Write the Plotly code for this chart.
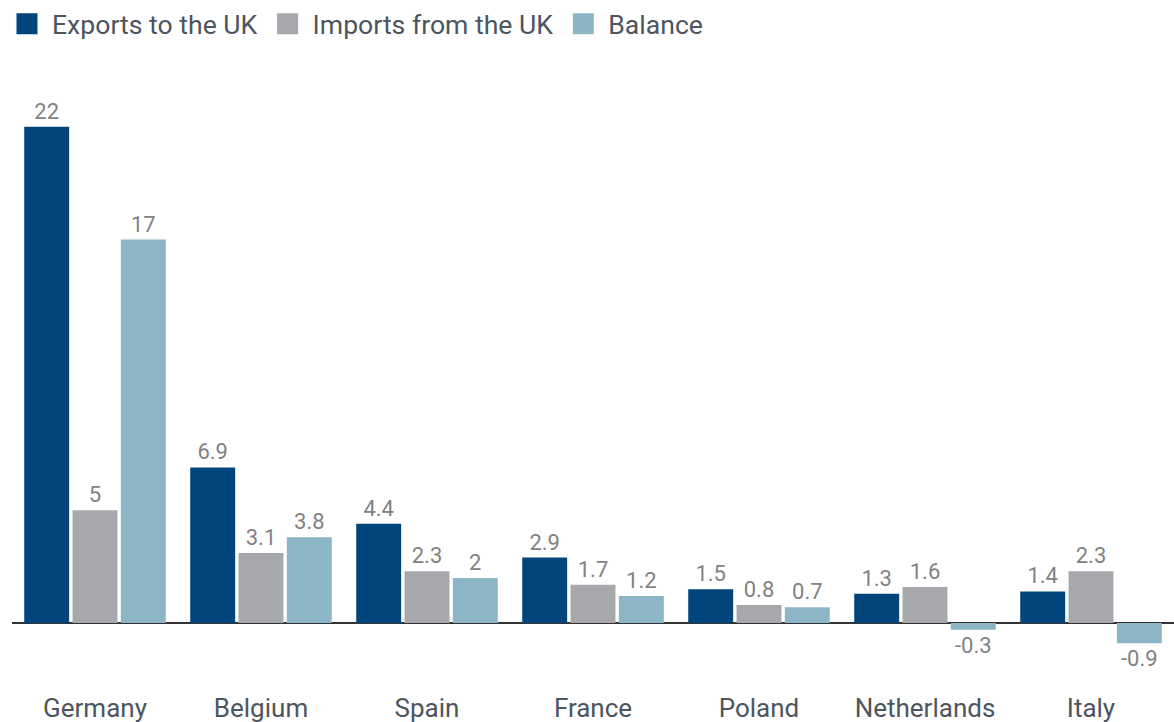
import plotly.graph_objects as go

categories = ["Germany", "Belgium", "Spain", "France", "Poland", "Netherlands", "Italy"]
exports = [22, 6.9, 4.4, 2.9, 1.5, 1.3, 1.4]
imports = [5, 3.1, 2.3, 1.7, 0.8, 1.6, 2.3]
balance = [17, 3.8, 2, 1.2, 0.7, -0.3, -0.9]

series = [
    ("Exports to the UK", exports, "#00467C"),
    ("Imports from the UK", imports, "#A7A8AB"),
    ("Balance", balance, "#8CB5C6"),
]

fig = go.Figure()
for name, vals, col in series:
    fig.add_trace(go.Bar(
        x=categories, y=vals, name=name, marker=dict(color=col, line=dict(width=0)),
        text=[f"{v:g}" for v in vals], texttemplate="%{text}",
        textposition="outside", cliponaxis=False,
        textfont=dict(family="Roboto", size=22, color="#808285"),
        showlegend=False, hoverinfo="x+y+name",
    ))
# legend entries
for name, vals, col in series:
    fig.add_trace(go.Scatter(
        x=[None], y=[None], mode="markers", name=name,
        marker=dict(symbol="square", size=16, color=col, line=dict(color=col, width=5)),
    ))

fig.update_layout(
    width=1174, height=722,
    margin=dict(l=12, r=0, t=100, b=32),
    paper_bgcolor="white", plot_bgcolor="white",
    barmode="group", bargap=0.127, bargroupgap=0.07,
    font=dict(family="Roboto", size=26, color="#4D5560"),
    legend=dict(orientation="h", x=0.0017, xref="container", xanchor="left",
                y=1, yref="container", yanchor="top",
                font=dict(family="Roboto", size=26.6, color="#4D5560"),
                itemsizing="trace", tracegroupgap=0, itemwidth=40),
    uniformtext=dict(mode=False),
)
fig.update_xaxes(showgrid=False, showline=False, ticks="", tickfont=dict(size=26, color="#4D5560"))
fig.update_yaxes(range=[-2.97, 23.19], showgrid=False, showticklabels=False, zeroline=True,
                 zerolinecolor="#333333", zerolinewidth=2)

fig.write_html("out.html", config={"displayModeBar": False},
               post_script="document.body.style.margin='0';document.body.style.overflow='hidden';")
